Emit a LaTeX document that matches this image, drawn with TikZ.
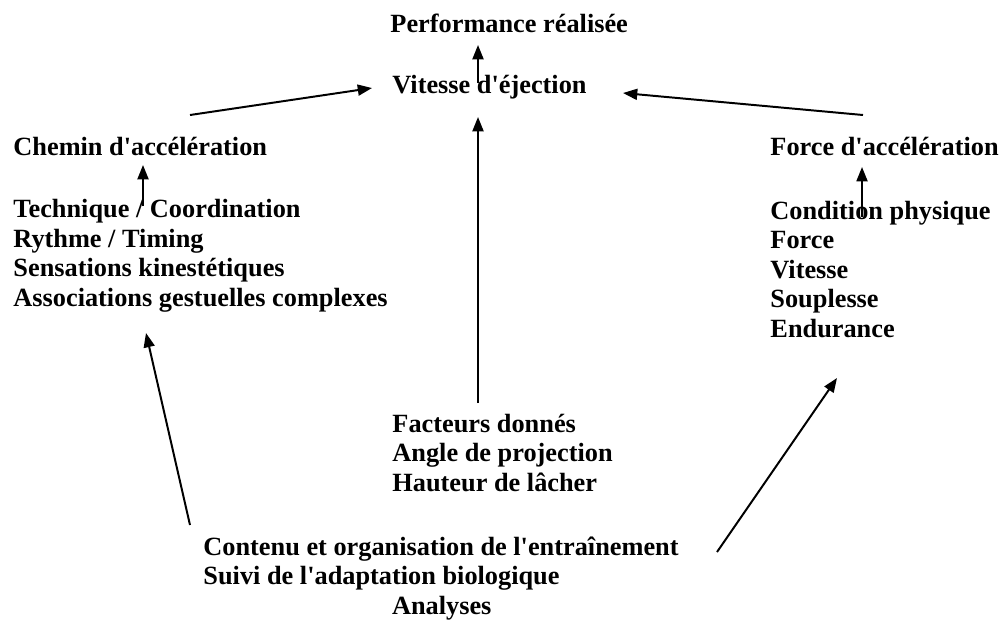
\documentclass[tikz,border=0pt]{standalone}
\usepackage{fontspec}
\setmainfont{Liberation Serif}
\usepackage{tikz}
\usetikzlibrary{arrows.meta,positioning,calc}

\newcommand{\ap}{\textquotesingle}

\tikzset{
    label/.style={anchor=base west, inner sep=0pt, align=left,
        font=\fontsize{12pt}{13.4pt}\selectfont\bfseries},
    flow/.style={-{Triangle[length=6.5pt,width=5pt]}, line width=0.9pt}
}

\begin{document}
\begin{tikzpicture}[x=0.456pt, y=-0.456pt]
    \useasboundingbox (0,0) rectangle (1001,619);

    % Top
    \node[label] (perf) at (390,32) {Performance réalisée};
    \node[label] (vit) at (392,93) {Vitesse d\ap éjection};

    % Left side (lists are placed by their last line)
    \node[label] (chemin) at (13,155) {Chemin d\ap accélération};
    \node[label] (tech) at (13,306) {Technique / Coordination\\
        Rythme / Timing\\
        Sensations kinestétiques\\
        Associations gestuelles complexes};

    % Right side
    \node[label] (forceacc) at (770,155) {Force d\ap accélération};
    \node[label] (cond) at (770,337) {Condition physique\\
        Force\\
        Vitesse\\
        Souplesse\\
        Endurance};

    % Middle and bottom
    \node[label] (fact) at (392,491) {Facteurs donnés\\
        Angle de projection\\
        Hauteur de lâcher};
    \node[label] (contenu) at (203,614) {Contenu et organisation de l\ap entraînement\\
        Suivi de l\ap adaptation biologique\\
        \hspace*{86pt}Analyses};

    % Arrows
    \draw[flow] ($(vit.base west)+(86,-10)$) -- ($(perf.base west)+(88,13)$);
    \draw[flow] ($(chemin.base west)+(177,-40)$) -- ($(vit.base west)+(-20,-5)$);
    \draw[flow] ($(forceacc.base west)+(93,-40)$) -- ($(vit.base west)+(231,0)$);
    \draw[flow] ($(tech.base west)+(130,-100)$) -- ($(chemin.base west)+(130,10)$);
    \draw[flow] ($(cond.base west)+(92,-120)$) -- ($(forceacc.base west)+(92,12)$);
    \draw[flow] ($(fact.base west)+(86,-88)$) -- ($(vit.base west)+(86,24)$);
    \draw[flow] ($(contenu.base west)+(-13,-89)$) -- ($(tech.base west)+(133,27)$);
    \draw[flow] ($(contenu.base west)+(514,-62)$) -- ($(cond.base west)+(67,41)$);
\end{tikzpicture}
\end{document}
